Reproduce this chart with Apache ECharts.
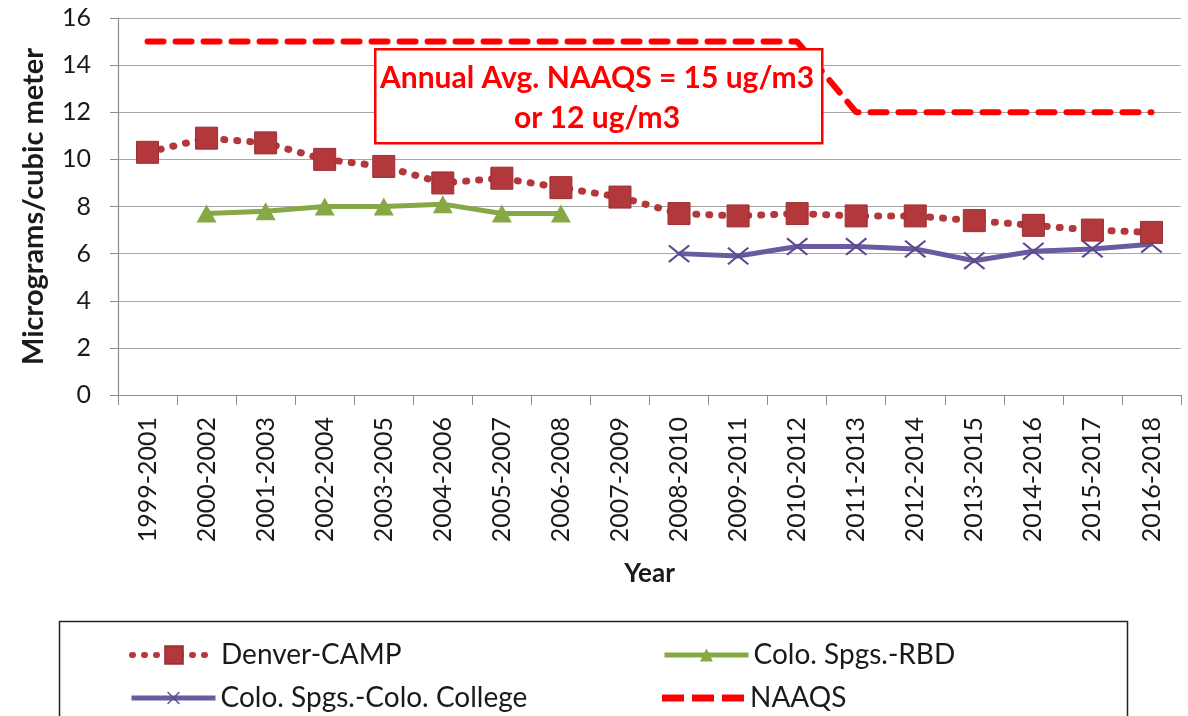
<!DOCTYPE html>
<html>
<head>
<meta charset="utf-8">
<script src="https://cdn.jsdelivr.net/npm/echarts@6/dist/echarts.min.js"></script>
<style>
  html, body { margin: 0; padding: 0; background: #fff; }
  #chart { width: 1188px; height: 716px; }
</style>
</head>
<body>
<div id="chart"></div>
<script>
// Three-year average PM2.5 design values by monitoring site
const categories = [
  '1999-2001', '2000-2002', '2001-2003', '2002-2004', '2003-2005', '2004-2006',
  '2005-2007', '2006-2008', '2007-2009', '2008-2010', '2009-2011', '2010-2012',
  '2011-2013', '2012-2014', '2013-2015', '2014-2016', '2015-2017', '2016-2018'
];
const denverCamp = [10.3, 10.9, 10.7, 10.0, 9.7, 9.0, 9.2, 8.8, 8.4, 7.7, 7.6, 7.7, 7.6, 7.6, 7.4, 7.2, 7.0, 6.9];
const coloSpgsRbd = [null, 7.7, 7.8, 8.0, 8.0, 8.1, 7.7, 7.7, null, null, null, null, null, null, null, null, null, null];
const coloSpgsCollege = [null, null, null, null, null, null, null, null, null, 6.0, 5.9, 6.3, 6.3, 6.2, 5.7, 6.1, 6.2, 6.4];
const naaqs = [15, 15, 15, 15, 15, 15, 15, 15, 15, 15, 15, 15, 12, 12, 12, 12, 12, 12];
const yTicks = { min: 0, max: 16, step: 2 };

const FONT = 'Lato, "Liberation Sans", sans-serif';
const INK = '#1a1a1a';
const crossPath = 'path://M0,1.5 L1.5,0 L10,8.5 L18.5,0 L20,1.5 L11.5,10 L20,18.5 L18.5,20 L10,11.5 L1.5,20 L0,18.5 L8.5,10 Z';
const dashIcon = 'path://M0,0H22V7H0Z M30,0H52V7H30Z M60,0H82V7H60Z';

const chart = echarts.init(document.getElementById('chart'), null, { renderer: 'canvas' });

const legendBase = {
  orient: 'horizontal',
  itemWidth: 84,
  itemHeight: 22,
  textStyle: { fontFamily: FONT, fontSize: 28, color: INK },
  selectedMode: false
};

chart.setOption({
  backgroundColor: '#ffffff',
  animation: false,
  grid: { left: 118, right: 7, top: 18, bottom: 321, containLabel: false },
  xAxis: {
    type: 'category',
    data: categories,
    boundaryGap: true,
    name: 'Year',
    nameLocation: 'middle',
    nameGap: 166,
    nameTextStyle: { fontFamily: FONT, fontSize: 26, fontWeight: 'bold', color: INK },
    axisLine: { show: true, lineStyle: { color: '#8c8c8c', width: 1.2 } },
    axisTick: { show: true, length: 10, interval: 0, lineStyle: { color: '#8c8c8c' } },
    axisLabel: { interval: 0, rotate: 90, margin: 22, fontFamily: FONT, fontSize: 25, color: INK },
    splitLine: { show: false }
  },
  yAxis: {
    type: 'value',
    min: yTicks.min,
    max: yTicks.max,
    interval: yTicks.step,
    name: 'Micrograms/cubic meter',
    nameLocation: 'middle',
    nameRotate: 90,
    nameGap: 70,
    nameTextStyle: { fontFamily: FONT, fontSize: 29, fontWeight: 'bold', color: INK },
    axisLine: { show: true, lineStyle: { color: '#8c8c8c', width: 1.2 } },
    axisTick: { show: true, length: 8, lineStyle: { color: '#8c8c8c' } },
    axisLabel: { margin: 27, fontFamily: FONT, fontSize: 25, color: INK },
    splitLine: { show: true, lineStyle: { color: '#a6a6a6', width: 1.2 } }
  },
  legend: [
    Object.assign({}, legendBase, {
      data: ['Denver-CAMP'], left: 124, top: 636,
      lineStyle: { width: 6, type: [1, 11], cap: 'round' }
    }),
    Object.assign({}, legendBase, {
      data: ['Colo. Spgs.-RBD'], left: 657, top: 636, itemHeight: 16,
      lineStyle: { width: 5 }
    }),
    Object.assign({}, legendBase, {
      data: ['Colo. Spgs.-Colo. College'], left: 124, top: 679, itemHeight: 16,
      lineStyle: { width: 5 }
    }),
    Object.assign({}, legendBase, {
      data: [{ name: 'NAAQS', icon: dashIcon }], itemHeight: 7, left: 657, top: 679
    })
  ],
  series: [
    {
      name: 'NAAQS',
      type: 'line',
      data: naaqs,
      symbol: 'none',
      z: 1,
      lineStyle: { color: '#ff0000', width: 6, type: [16, 12], cap: 'round' },
      itemStyle: { color: '#ff0000' }
    },
    {
      name: 'Denver-CAMP',
      type: 'line',
      data: denverCamp,
      symbol: 'rect',
      symbolSize: 22,
      z: 3,
      lineStyle: { color: '#b3383c', width: 7, type: [1, 12], cap: 'round' },
      itemStyle: { color: '#b3383c', borderColor: '#9a2f33', borderWidth: 1 }
    },
    {
      name: 'Colo. Spgs.-RBD',
      type: 'line',
      data: coloSpgsRbd,
      symbol: 'triangle',
      symbolSize: [20, 18],
      z: 2,
      lineStyle: { color: '#86a845', width: 5 },
      itemStyle: { color: '#86a845' }
    },
    {
      name: 'Colo. Spgs.-Colo. College',
      type: 'line',
      data: coloSpgsCollege,
      symbol: crossPath,
      symbolSize: [22, 18],
      z: 2,
      lineStyle: { color: '#6b5aa0', width: 5 },
      itemStyle: { color: '#5a4b8e' }
    }
  ],
  graphic: [
    {
      type: 'rect',
      left: 57,
      top: 619,
      shape: { width: 1068, height: 110 },
      style: { fill: 'none', stroke: '#222', lineWidth: 1.5 },
      z: 0
    },
    {
      type: 'rect',
      left: 374,
      top: 48,
      shape: { width: 447, height: 94 },
      style: { fill: '#ffffff', stroke: '#ff0000', lineWidth: 2.5 },
      z: 10
    },
    {
      type: 'text',
      x: 597,
      y: 98,
      z: 11,
      style: {
        text: 'Annual Avg. NAAQS = 15 ug/m3\nor 12 ug/m3',
        align: 'center',
        verticalAlign: 'middle',
        fill: '#ff0000',
        fontFamily: FONT,
        fontSize: 30,
        fontWeight: 'bold',
        lineHeight: 40
      }
    }
  ]
});
</script>
</body>
</html>
